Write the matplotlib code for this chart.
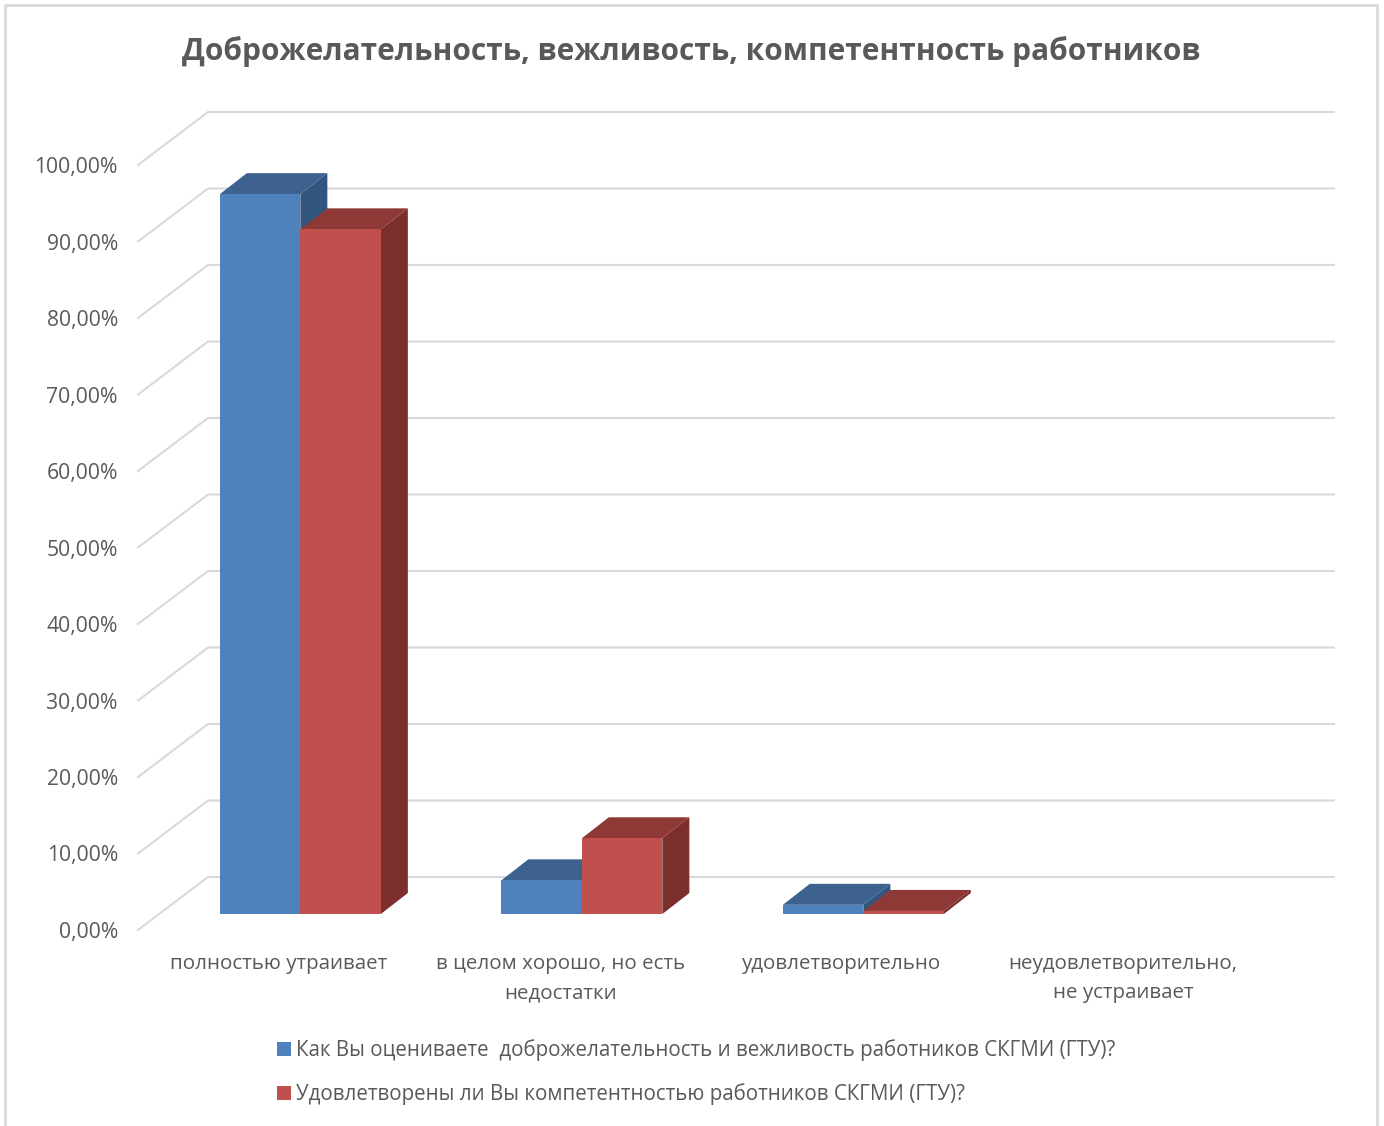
import matplotlib
matplotlib.use('Agg')
import matplotlib.pyplot as plt
import matplotlib.patches as mpatches
from matplotlib.lines import Line2D
import numpy as np

W, H = 1384, 1126

TITLE = "Доброжелательность, вежливость, компетентность работников"
CATEGORIES = ["полностью утраивает", "в целом хорошо, но есть\nнедостатки",
              "удовлетворительно", "неудовлетворительно,\nне устраивает"]
SERIES_NAMES = ["Как Вы оцениваете  доброжелательность и вежливость работников СКГМИ (ГТУ)?",
                "Удовлетворены ли Вы компетентностью работников СКГМИ (ГТУ)?"]
GOODWILL = [94.1, 4.4, 1.2, 0.0]
COMPETENCE = [89.5, 9.9, 0.4, 0.0]
Y_TICKS = [0, 10, 20, 30, 40, 50, 60, 70, 80, 90, 100]
Y_LABELS = ["0,00%", "10,00%", "20,00%", "30,00%", "40,00%", "50,00%",
            "60,00%", "70,00%", "80,00%", "90,00%", "100,00%"]

FACE = ["#4F81BD", "#C0504D"]
TOP = ["#3D6290", "#8F3936"]
SIDE = ["#32557F", "#7B2E2C"]
TEXT = "#595959"
GRID = "#D9D9D9"

plt.rcParams['font.family'] = ['Open Sans', 'DejaVu Sans']

# front plane of the 3d box, in pixels
LEFT, RIGHT, BASE, TOP_PX = 138, 1264, 930, 165
PX_X = 4 / (RIGHT - LEFT)
PX_Y = 100 / (BASE - TOP_PX)

fig = plt.figure(figsize=(W / 100, H / 100), dpi=100, facecolor="white")
ax = fig.add_axes([LEFT / W, 1 - BASE / H, (RIGHT - LEFT) / W, (BASE - TOP_PX) / H])
ax.set_xlim(0, 4)
ax.set_ylim(0, 100)
ax.patch.set_visible(False)
for s in ax.spines.values():
    s.set_visible(False)

# depth offsets: back wall, front and back of the bars
wall_x, wall_y = 70 * PX_X, 53 * PX_Y
bar_x, bar_y = 21.6 * PX_X, 16 * PX_Y
deep_x, deep_y = 27 * PX_X, 21 * PX_Y

for v in Y_TICKS:
    ax.plot([0, wall_x, 4 + wall_x], [v, v + wall_y, v + wall_y],
            color=GRID, lw=1.5, clip_on=False, zorder=1, solid_joinstyle="miter")

ax.set_yticks(Y_TICKS)
ax.set_yticklabels(Y_LABELS, fontsize=15.2, color=TEXT)
ax.set_xticks(np.arange(len(CATEGORIES)) + 0.5)
ax.set_xticklabels(CATEGORIES, fontsize=14.75, color=TEXT, linespacing=1.62)
ax.tick_params(axis="y", length=0, pad=14.5)
ax.tick_params(axis="x", length=0, pad=17)

width = 80.5 * PX_X
x = np.arange(len(CATEGORIES)) + 0.5 + bar_x
for j, vals in enumerate([GOODWILL, COMPETENCE]):
    z = 3 + j
    xs = x + (j - 0.5) * width
    for xc, val in zip(xs, vals):
        if val <= 0:
            continue
        x0, x1 = xc - width / 2, xc + width / 2
        y0, y1 = bar_y, bar_y + val
        ax.add_patch(mpatches.Polygon(
            [(x1, y0), (x1 + deep_x, y0 + deep_y), (x1 + deep_x, y1 + deep_y), (x1, y1)],
            facecolor=SIDE[j], edgecolor="none", clip_on=False, zorder=z))
        ax.add_patch(mpatches.Polygon(
            [(x0, y1), (x0 + deep_x, y1 + deep_y), (x1 + deep_x, y1 + deep_y), (x1, y1)],
            facecolor=TOP[j], edgecolor="none", clip_on=False, zorder=z))
        ax.bar(xc, val, width=width, bottom=bar_y, color=FACE[j], linewidth=0, zorder=z)

fig.text(691 / W, 1 - 52 / H, TITLE, ha="center", va="center",
         fontsize=21.5, fontweight="bold", color=TEXT)

handles = [mpatches.Patch(facecolor=FACE[i], edgecolor="none", label=SERIES_NAMES[i]) for i in range(2)]
fig.legend(handles=handles, loc="upper left", bbox_to_anchor=(273 / W, 1 - 1035 / H),
           frameon=False, fontsize=14.8, labelcolor=TEXT, ncol=1,
           handlelength=0.68, handleheight=0.68, handletextpad=0.25,
           labelspacing=1.1, borderpad=0.2, borderaxespad=0)

# chart frame, cut off at the bottom of the screenshot
fig.add_artist(Line2D([5 / W, 5 / W, 1377 / W, 1377 / W], [0, 1 - 5 / H, 1 - 5 / H, 0],
                      color="#D9D9D9", lw=2, transform=fig.transFigure))

fig.savefig("out.png", dpi=100, facecolor="white")
